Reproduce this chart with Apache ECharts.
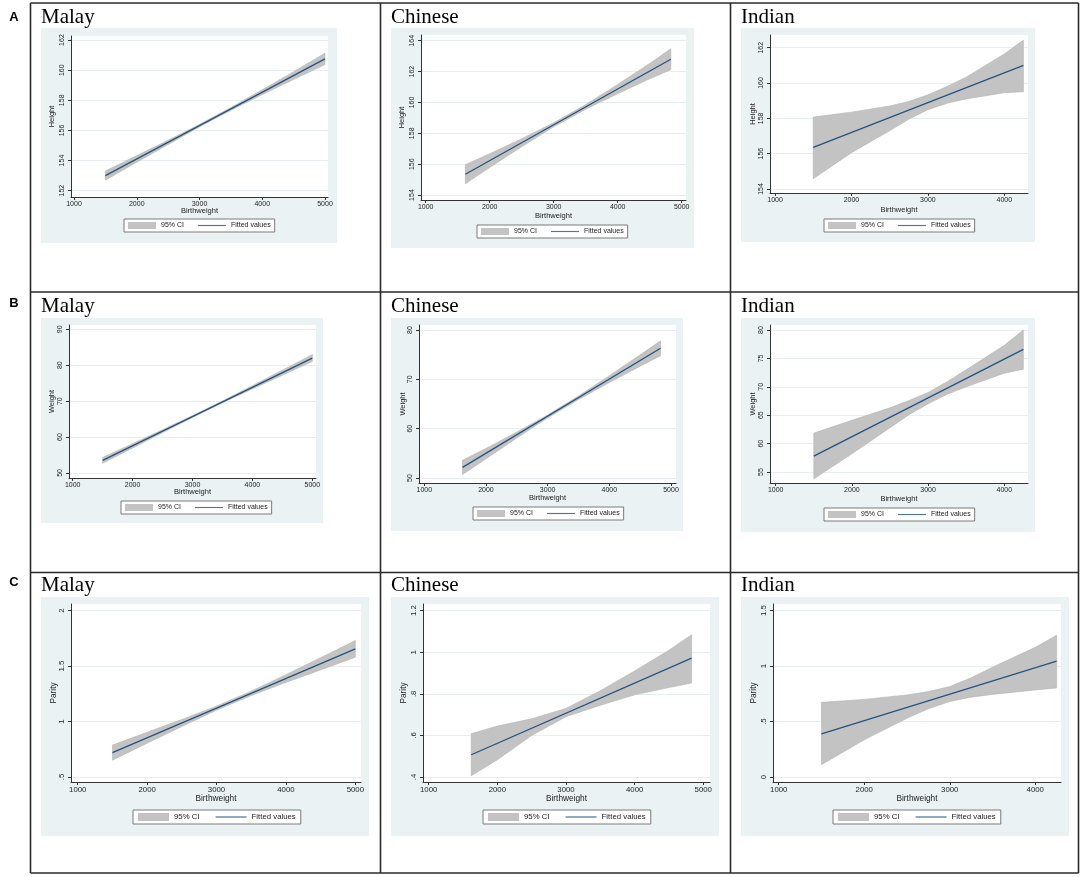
<!DOCTYPE html>
<html>
<head>
<meta charset="utf-8">
<style>
  html, body { margin: 0; padding: 0; background: #fff; }
  #chart { width: 1084px; height: 877px; }
</style>
<script src="https://cdn.jsdelivr.net/npm/echarts@6/dist/echarts.min.js"></script>
</head>
<body>
<div id="chart"></div>
<script>
// ---- data ----
const groups = ['Malay', 'Chinese', 'Indian'];
const rowLetters = ['A', 'B', 'C'];
const outcomes = ['Height', 'Weight', 'Parity'];

const bwTicksFull = [1000, 2000, 3000, 4000, 5000];
const bwTicksShort = [1000, 2000, 3000, 4000];

const heightTicksMalay = [152, 154, 156, 158, 160, 162];
const heightTicksChinese = [154, 156, 158, 160, 162, 164];
const heightTicksIndian = [154, 156, 158, 160, 162];
const weightTicksMalay = [50, 60, 70, 80, 90];
const weightTicksChinese = [50, 60, 70, 80];
const weightTicksIndian = [55, 60, 65, 70, 75, 80];
const parityTicksMalay = [0.5, 1, 1.5, 2];
const parityTicksChinese = [0.4, 0.6, 0.8, 1, 1.2];
const parityTicksIndian = [0, 0.5, 1, 1.5];

// birthweight values where the CI band edges were read
const ciXMalay = [1500, 2000, 2500, 3000, 3500, 4000, 4500, 5000];
const ciXChinese = [1620, 2000, 2500, 3000, 3500, 4000, 4500, 4830];
const ciXIndian = [1500, 2000, 2500, 2750, 3000, 3250, 3500, 4000, 4250];

// fitted line end points
const fitXMalay = [1500, 5000];
const fitXChinese = [1620, 4830];
const fitXIndian = [1500, 4250];

// A: height
const heightFitMalay = [153.0, 160.75];
const heightLowMalay = [152.70, 153.89, 155.07, 156.24, 157.34, 158.38, 159.38, 160.37];
const heightHighMalay = [153.30, 154.33, 155.35, 156.40, 157.52, 158.70, 159.90, 161.13];
const heightFitChinese = [155.35, 162.8];
const heightLowChinese = [154.73, 155.78, 157.13, 158.42, 159.56, 160.57, 161.53, 162.12];
const heightHighChinese = [155.97, 156.68, 157.65, 158.68, 159.86, 161.17, 162.53, 163.48];
const heightFitIndian = [156.35, 161.0];
const heightLowIndian = [154.58, 156.05, 157.30, 157.95, 158.49, 158.85, 159.10, 159.45, 159.51];
const heightHighIndian = [158.07, 158.35, 158.70, 158.95, 159.33, 159.80, 160.33, 161.65, 162.43];

// B: weight
const weightFitMalay = [53.5, 82.0];
const weightLowMalay = [52.70, 56.97, 61.24, 65.46, 69.54, 73.41, 77.23, 81.05];
const weightHighMalay = [54.30, 58.17, 62.04, 65.96, 70.04, 74.31, 78.63, 82.95];
const weightFitChinese = [52.15, 76.3];
const weightLowChinese = [50.70, 53.89, 58.12, 62.19, 65.91, 69.34, 72.66, 74.80];
const weightHighChinese = [53.60, 55.99, 59.32, 62.79, 66.61, 70.74, 74.96, 77.80];
const weightFitIndian = [57.8, 76.6];
const weightLowIndian = [53.8, 58.2, 62.8, 65.1, 67.0, 68.7, 70.0, 72.4, 73.1];
const weightHighIndian = [61.85, 64.1, 66.3, 67.6, 69.0, 70.9, 73.0, 77.3, 80.0];

// C: parity
const parityFitMalay = [0.72, 1.655];
const parityLowMalay = [0.652, 0.804, 0.955, 1.103, 1.234, 1.353, 1.466, 1.580];
const parityHighMalay = [0.788, 0.904, 1.019, 1.139, 1.274, 1.423, 1.576, 1.730];
const parityFitChinese = [0.507, 0.972];
const parityLowChinese = [0.406, 0.483, 0.600, 0.690, 0.745, 0.795, 0.830, 0.852];
const parityHighChinese = [0.608, 0.645, 0.680, 0.730, 0.815, 0.910, 1.010, 1.084];
const parityFitIndian = [0.39, 1.045];
const parityLowIndian = [0.111, 0.335, 0.530, 0.615, 0.680, 0.720, 0.745, 0.785, 0.803];
const parityHighIndian = [0.673, 0.700, 0.740, 0.770, 0.815, 0.895, 0.990, 1.170, 1.278];

const panels = [
  { ciX: ciXMalay, low: heightLowMalay, high: heightHighMalay, fitX: fitXMalay, fitY: heightFitMalay, xTicks: bwTicksFull, yTicks: heightTicksMalay },
  { ciX: ciXChinese, low: heightLowChinese, high: heightHighChinese, fitX: fitXChinese, fitY: heightFitChinese, xTicks: bwTicksFull, yTicks: heightTicksChinese },
  { ciX: ciXIndian, low: heightLowIndian, high: heightHighIndian, fitX: fitXIndian, fitY: heightFitIndian, xTicks: bwTicksShort, yTicks: heightTicksIndian },
  { ciX: ciXMalay, low: weightLowMalay, high: weightHighMalay, fitX: fitXMalay, fitY: weightFitMalay, xTicks: bwTicksFull, yTicks: weightTicksMalay },
  { ciX: ciXChinese, low: weightLowChinese, high: weightHighChinese, fitX: fitXChinese, fitY: weightFitChinese, xTicks: bwTicksFull, yTicks: weightTicksChinese },
  { ciX: ciXIndian, low: weightLowIndian, high: weightHighIndian, fitX: fitXIndian, fitY: weightFitIndian, xTicks: bwTicksShort, yTicks: weightTicksIndian },
  { ciX: ciXMalay, low: parityLowMalay, high: parityHighMalay, fitX: fitXMalay, fitY: parityFitMalay, xTicks: bwTicksFull, yTicks: parityTicksMalay },
  { ciX: ciXChinese, low: parityLowChinese, high: parityHighChinese, fitX: fitXChinese, fitY: parityFitChinese, xTicks: bwTicksFull, yTicks: parityTicksChinese },
  { ciX: ciXIndian, low: parityLowIndian, high: parityHighIndian, fitX: fitXIndian, fitY: parityFitIndian, xTicks: bwTicksShort, yTicks: parityTicksIndian }
];

// ---- layout (pixels) ----
const layout = [
  { bg: [41, 28, 296, 215], grid: [71, 36, 257, 161], xRange: [952, 5048], yRange: [151.58, 162.27], legend: [124, 219], fs: 7, xGap: 10, yGap: 15 },
  { bg: [391, 28, 303, 220], grid: [421, 35, 265, 165], xRange: [927, 5067], yRange: [153.68, 164.37], legend: [477, 225], fs: 7, xGap: 12, yGap: 15 },
  { bg: [741, 28, 294, 214], grid: [770, 35, 258, 158], xRange: [934, 4310], yRange: [153.77, 162.72], legend: [824, 219], fs: 7, xGap: 13, yGap: 13.5 },
  { bg: [41, 318, 282, 205], grid: [69, 325, 247, 153], xRange: [938, 5062], yRange: [48.6, 91.2], legend: [121, 501], fs: 7, xGap: 10, yGap: 13.5 },
  { bg: [391, 318, 292, 213], grid: [419, 325, 257, 158], xRange: [914, 5081], yRange: [48.99, 81.01], legend: [473, 507], fs: 7, xGap: 11, yGap: 12.5 },
  { bg: [741, 318, 294, 214], grid: [770, 325, 258, 158], xRange: [925, 4311], yRange: [53.07, 80.88], legend: [824, 508], fs: 7, xGap: 12, yGap: 13.5 },
  { bg: [41, 597, 328, 239], grid: [71, 604, 290, 178], xRange: [903, 5082], yRange: [0.455, 2.06], legend: [133, 810], fs: 7.8, xGap: 13, yGap: 13.5 },
  { bg: [391, 597, 328, 239], grid: [423, 604, 287, 178], xRange: [917, 5098], yRange: [0.376, 1.232], legend: [483, 810], fs: 7.8, xGap: 13, yGap: 15.5 },
  { bg: [741, 597, 328, 239], grid: [773, 604, 288, 178], xRange: [933, 4301], yRange: [-0.045, 1.56], legend: [833, 810], fs: 7.8, xGap: 13, yGap: 15.5 }
];

const colX = [30.5, 380.5, 730.5, 1078.5];
const rowY = [3, 292, 572.5, 873];
const titleY = [17, 306.5, 585.5];
const letterY = [17, 303, 582];

const SANS = '"Liberation Sans", Arial, sans-serif';
const SERIF = '"Liberation Serif", "Times New Roman", serif';
const BAND = '#c3c3c3';
const NAVY = '#24537e';
const KEY_BLUE = '#4a76a0';
const AXIS = '#333';
const LINE_ICON = 'path://M0,0L40,0L40,1.6L0,1.6Z';

function bandRenderer(xs, low, high) {
  return function (params, api) {
    if (params.dataIndex !== 0) return null;
    const pts = [];
    for (let k = 0; k < xs.length; k++) pts.push(api.coord([xs[k], high[k]]));
    for (let k = xs.length - 1; k >= 0; k--) pts.push(api.coord([xs[k], low[k]]));
    return {
      type: 'polygon',
      shape: { points: pts },
      style: { fill: BAND, stroke: '#b4b4b4', lineWidth: 0.6 }
    };
  };
}

function tickText(v) {
  return String(v).replace(/^(-?)0\./, '$1.');
}

const option = {
  animation: false,
  textStyle: { fontFamily: SANS },
  grid: [], xAxis: [], yAxis: [], series: [], legend: [], graphic: []
};

panels.forEach((p, i) => {
  const L = layout[i];
  const row = Math.floor(i / 3);
  const big = row === 2;

  option.grid.push({
    left: L.grid[0], top: L.grid[1], width: L.grid[2], height: L.grid[3],
    show: true, backgroundColor: '#fff', borderWidth: 0,
    containLabel: false, outerBoundsMode: 'none'
  });

  option.xAxis.push({
    type: 'value', gridIndex: i, min: L.xRange[0], max: L.xRange[1],
    name: 'Birthweight', nameLocation: 'middle', nameGap: L.xGap, nameMoveOverlap: false,
    nameTextStyle: { fontSize: L.fs + 0.5, color: '#222', fontFamily: SANS },
    axisLine: { show: true, onZero: false, lineStyle: { color: AXIS, width: 1 } },
    axisTick: { show: true, length: 3, customValues: p.xTicks, lineStyle: { color: AXIS } },
    axisLabel: { customValues: p.xTicks, fontSize: L.fs, color: '#222', margin: 4, fontFamily: SANS,
      formatter: v => String(v) },
    splitLine: { show: false }
  });

  option.yAxis.push({
    type: 'value', gridIndex: i, min: L.yRange[0], max: L.yRange[1],
    name: outcomes[row], nameLocation: 'middle', nameGap: L.yGap, nameMoveOverlap: false,
    nameTextStyle: { fontSize: L.fs + 0.5, color: '#222', fontFamily: SANS },
    axisLine: { show: true, onZero: false, lineStyle: { color: AXIS, width: 1 } },
    axisTick: { show: true, length: 3, customValues: p.yTicks, lineStyle: { color: AXIS } },
    axisLabel: { customValues: p.yTicks, rotate: 90, fontSize: L.fs, color: '#222', margin: 5,
      fontFamily: SANS, formatter: tickText },
    splitLine: { show: true, customValues: p.yTicks, lineStyle: { color: '#e6eef0', width: 1 } }
  });

  option.series.push({
    type: 'custom', name: '95% CI', xAxisIndex: i, yAxisIndex: i, silent: true,
    data: p.ciX.map((x, k) => [x, p.low[k], p.high[k]]),
    encode: { x: 0, y: [1, 2] },
    itemStyle: { color: BAND },
    renderItem: bandRenderer(p.ciX, p.low, p.high),
    z: 2
  });

  option.series.push({
    type: 'line', name: 'Fitted values', xAxisIndex: i, yAxisIndex: i, silent: true,
    data: p.fitX.map((x, k) => [x, p.fitY[k]]),
    symbol: 'none', showSymbol: false,
    itemStyle: { color: NAVY },
    lineStyle: { color: NAVY, width: 1.3 },
    z: 3
  });

  option.legend.push({
    left: L.legend[0], top: L.legend[1], orient: 'horizontal', selectedMode: false,
    data: [
      { name: '95% CI', icon: 'rect', itemStyle: { color: BAND, borderWidth: 0 } },
      { name: 'Fitted values', icon: LINE_ICON,
        itemStyle: { color: KEY_BLUE, borderColor: KEY_BLUE, borderWidth: 0 } }
    ],
    itemWidth: big ? 31 : 28, itemHeight: big ? 8 : 7, itemGap: big ? 16 : 14,
    padding: big ? [3, 5] : [3, 4],
    borderColor: '#7a7a7a', borderWidth: 1, borderRadius: 0, backgroundColor: '#fff',
    textStyle: { fontSize: L.fs, color: '#222', fontFamily: SANS }
  });

  // light blue graph region
  option.graphic.push({
    type: 'rect', z: -1, silent: true,
    shape: { x: L.bg[0], y: L.bg[1], width: L.bg[2], height: L.bg[3] },
    style: { fill: '#eaf2f3' }
  });

  // ethnic group header
  option.graphic.push({
    type: 'text', silent: true,
    x: L.bg[0], y: titleY[row],
    style: { text: groups[i % 3], font: '21px ' + SERIF, fill: '#000', align: 'left', verticalAlign: 'middle' }
  });
});

// panel letters
rowLetters.forEach((t, r) => {
  option.graphic.push({
    type: 'text', silent: true, x: 14, y: letterY[r],
    style: { text: t, font: 'bold 13px ' + SANS, fill: '#000', align: 'center', verticalAlign: 'middle' }
  });
});

// table borders
colX.forEach(x => {
  option.graphic.push({ type: 'line', z: 10, silent: true,
    shape: { x1: x, y1: rowY[0], x2: x, y2: rowY[3] },
    style: { stroke: '#2a2a2a', lineWidth: 1.6 } });
});
rowY.forEach(y => {
  option.graphic.push({ type: 'line', z: 10, silent: true,
    shape: { x1: colX[0], y1: y, x2: colX[3], y2: y },
    style: { stroke: '#2a2a2a', lineWidth: 1.6 } });
});

const chart = echarts.init(document.getElementById('chart'));
chart.setOption(option);
</script>
</body>
</html>
